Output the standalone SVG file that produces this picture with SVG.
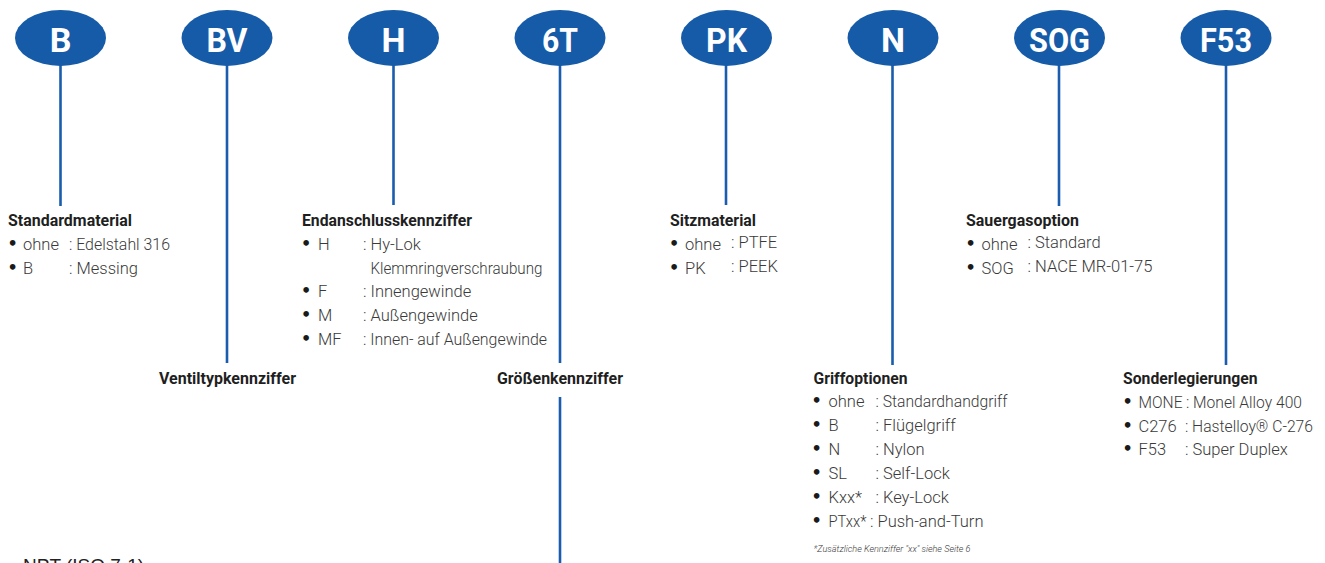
<svg xmlns="http://www.w3.org/2000/svg" width="1325" height="563" viewBox="0 0 1325 563">
<style>
.bg{fill:#ffffff}
.pill{fill:#165BA8}
.code{font-family:Roboto,"Liberation Sans",sans-serif;font-weight:700;font-size:34px;fill:#ffffff;text-anchor:middle}
.conn{stroke:#1A5CAD;stroke-width:2.6;fill:none}
.hd{font-family:Roboto,"Liberation Sans",sans-serif;font-weight:700;font-size:17px;fill:#1f1f1f}
.it{font-family:Roboto,"Liberation Sans",sans-serif;font-weight:300;font-size:16.5px;fill:#3a3a3a}
.bul{font-family:"DejaVu Sans",sans-serif;font-weight:700;font-size:16px;fill:#1a1a1a}
.fn{font-family:Roboto,"Liberation Sans",sans-serif;font-weight:300;font-style:italic;font-size:8.6px;fill:#3a3a3a}
.npt{font-family:"Liberation Sans",Arial,sans-serif;font-size:19px;fill:#222222}
</style>
<rect class="bg" x="0" y="0" width="1325" height="563"/>

<g id="connectors">
<line class="conn" x1="60.5" y1="64" x2="60.5" y2="206"/>
<line class="conn" x1="227" y1="64" x2="227" y2="363"/>
<line class="conn" x1="393.5" y1="64" x2="393.5" y2="205"/>
<line class="conn" x1="560" y1="64" x2="560" y2="363"/>
<line class="conn" x1="560" y1="397" x2="560" y2="563"/>
<line class="conn" x1="726" y1="64" x2="726" y2="205"/>
<line class="conn" x1="892.5" y1="64" x2="892.5" y2="365"/>
<line class="conn" x1="1059" y1="64" x2="1059" y2="206"/>
<line class="conn" x1="1226" y1="64" x2="1226" y2="365"/>
</g>

<g id="node-B">
<ellipse class="pill" cx="60.5" cy="38" rx="45.5" ry="28"/>
<text class="code" x="60.5" y="52">B</text>
</g>
<g id="node-BV">
<ellipse class="pill" cx="227" cy="38" rx="45.5" ry="28"/>
<text class="code" x="227" y="52" textLength="41" lengthAdjust="spacingAndGlyphs">BV</text>
</g>
<g id="node-H">
<ellipse class="pill" cx="393.5" cy="38" rx="45.5" ry="28"/>
<text class="code" x="393.5" y="52">H</text>
</g>
<g id="node-6T">
<ellipse class="pill" cx="560" cy="38" rx="45.5" ry="28"/>
<text class="code" x="560" y="52" textLength="36" lengthAdjust="spacingAndGlyphs">6T</text>
</g>
<g id="node-PK">
<ellipse class="pill" cx="726.5" cy="38" rx="45.5" ry="28"/>
<text class="code" x="726.5" y="52" textLength="41" lengthAdjust="spacingAndGlyphs">PK</text>
</g>
<g id="node-N">
<ellipse class="pill" cx="893" cy="38" rx="45.5" ry="28"/>
<text class="code" x="893" y="52">N</text>
</g>
<g id="node-SOG">
<ellipse class="pill" cx="1059.5" cy="38" rx="45.5" ry="28"/>
<text class="code" x="1059.5" y="52" textLength="61" lengthAdjust="spacingAndGlyphs">SOG</text>
</g>
<g id="node-F53">
<ellipse class="pill" cx="1226" cy="38" rx="45.5" ry="28"/>
<text class="code" x="1226" y="52" textLength="52" lengthAdjust="spacingAndGlyphs">F53</text>
</g>

<g id="desc-standardmaterial">
<text class="hd" x="8" y="226" textLength="124" lengthAdjust="spacingAndGlyphs">Standardmaterial</text>
<text class="bul" x="7.5" y="249">•</text><text class="it" x="23" y="250">ohne</text><text class="it" x="69" y="250" textLength="101" lengthAdjust="spacingAndGlyphs">: Edelstahl 316</text>
<text class="bul" x="7.5" y="273">•</text><text class="it" x="23" y="274">B</text><text class="it" x="69" y="274">: Messing</text>
</g>

<g id="desc-ventiltyp">
<text class="hd" x="159" y="384" textLength="137" lengthAdjust="spacingAndGlyphs">Ventiltypkennziffer</text>
</g>

<g id="desc-endanschluss">
<text class="hd" x="302" y="226" textLength="170" lengthAdjust="spacingAndGlyphs">Endanschlusskennziffer</text>
<text class="bul" x="301" y="249">•</text><text class="it" x="318" y="250">H</text><text class="it" x="363" y="250">: Hy-Lok</text>
<text class="it" x="370.5" y="273.5" textLength="172" lengthAdjust="spacingAndGlyphs">Klemmringverschraubung</text>
<text class="bul" x="301" y="296">•</text><text class="it" x="318" y="297">F</text><text class="it" x="363" y="297">: Innengewinde</text>
<text class="bul" x="301" y="320">•</text><text class="it" x="318" y="321">M</text><text class="it" x="363" y="321">: Außengewinde</text>
<text class="bul" x="301" y="344">•</text><text class="it" x="318" y="345">MF</text><text class="it" x="363" y="345" textLength="184" lengthAdjust="spacingAndGlyphs">: Innen- auf Außengewinde</text>
</g>

<g id="desc-groesse">
<text class="hd" x="497" y="384" textLength="126" lengthAdjust="spacingAndGlyphs">Größenkennziffer</text>
</g>

<g id="desc-sitzmaterial">
<text class="hd" x="670" y="226" textLength="86" lengthAdjust="spacingAndGlyphs">Sitzmaterial</text>
<text class="bul" x="669" y="249">•</text><text class="it" x="685" y="250">ohne</text><text class="it" x="731" y="248">: PTFE</text>
<text class="bul" x="669" y="273">•</text><text class="it" x="685" y="274">PK</text><text class="it" x="731" y="272">: PEEK</text>
</g>

<g id="desc-griff">
<text class="hd" x="813.5" y="384" textLength="94" lengthAdjust="spacingAndGlyphs">Griffoptionen</text>
<text class="bul" x="811.5" y="405.5">•</text><text class="it" x="828.5" y="406.5">ohne</text><text class="it" x="875.5" y="406.5" textLength="132" lengthAdjust="spacingAndGlyphs">: Standardhandgriff</text>
<text class="bul" x="811.5" y="430">•</text><text class="it" x="828.5" y="431">B</text><text class="it" x="875.5" y="431">: Flügelgriff</text>
<text class="bul" x="811.5" y="454">•</text><text class="it" x="828.5" y="455">N</text><text class="it" x="875.5" y="455">: Nylon</text>
<text class="bul" x="811.5" y="478">•</text><text class="it" x="828.5" y="479">SL</text><text class="it" x="875.5" y="479">: Self-Lock</text>
<text class="bul" x="811.5" y="502">•</text><text class="it" x="828.5" y="503">Kxx*</text><text class="it" x="875.5" y="503">: Key-Lock</text>
<text class="bul" x="811.5" y="526">•</text><text class="it" x="828.5" y="527" textLength="38" lengthAdjust="spacingAndGlyphs">PTxx*</text><text class="it" x="870" y="527">: Push-and-Turn</text>
<text class="fn" x="813.5" y="551.5" textLength="157" lengthAdjust="spacingAndGlyphs">*Zusätzliche Kennziffer "xx" siehe Seite 6</text>
</g>

<g id="desc-sauergas">
<text class="hd" x="966" y="226" textLength="113" lengthAdjust="spacingAndGlyphs">Sauergasoption</text>
<text class="bul" x="965.5" y="248.5">•</text><text class="it" x="981.5" y="249.5">ohne</text><text class="it" x="1027.5" y="247.5">: Standard</text>
<text class="bul" x="965.5" y="272.5">•</text><text class="it" x="981.5" y="273.5">SOG</text><text class="it" x="1027.5" y="271.5" textLength="125" lengthAdjust="spacingAndGlyphs">: NACE MR-01-75</text>
</g>

<g id="desc-sonder">
<text class="hd" x="1123" y="384" textLength="134.5" lengthAdjust="spacingAndGlyphs">Sonderlegierungen</text>
<text class="bul" x="1122.5" y="406.5">•</text><text class="it" x="1138.5" y="407.5" textLength="44" lengthAdjust="spacingAndGlyphs">MONE</text><text class="it" x="1186" y="407.5" textLength="116" lengthAdjust="spacingAndGlyphs">: Monel Alloy 400</text>
<text class="bul" x="1122.5" y="430.5">•</text><text class="it" x="1138.5" y="431.5">C276</text><text class="it" x="1185" y="431.5" textLength="128" lengthAdjust="spacingAndGlyphs">: Hastelloy® C-276</text>
<text class="bul" x="1122.5" y="454">•</text><text class="it" x="1138.5" y="455">F53</text><text class="it" x="1185" y="455">: Super Duplex</text>
</g>

<g id="npt-label">
<text class="npt" x="23" y="572">NPT (ISO 7-1)</text>
</g>
</svg>
